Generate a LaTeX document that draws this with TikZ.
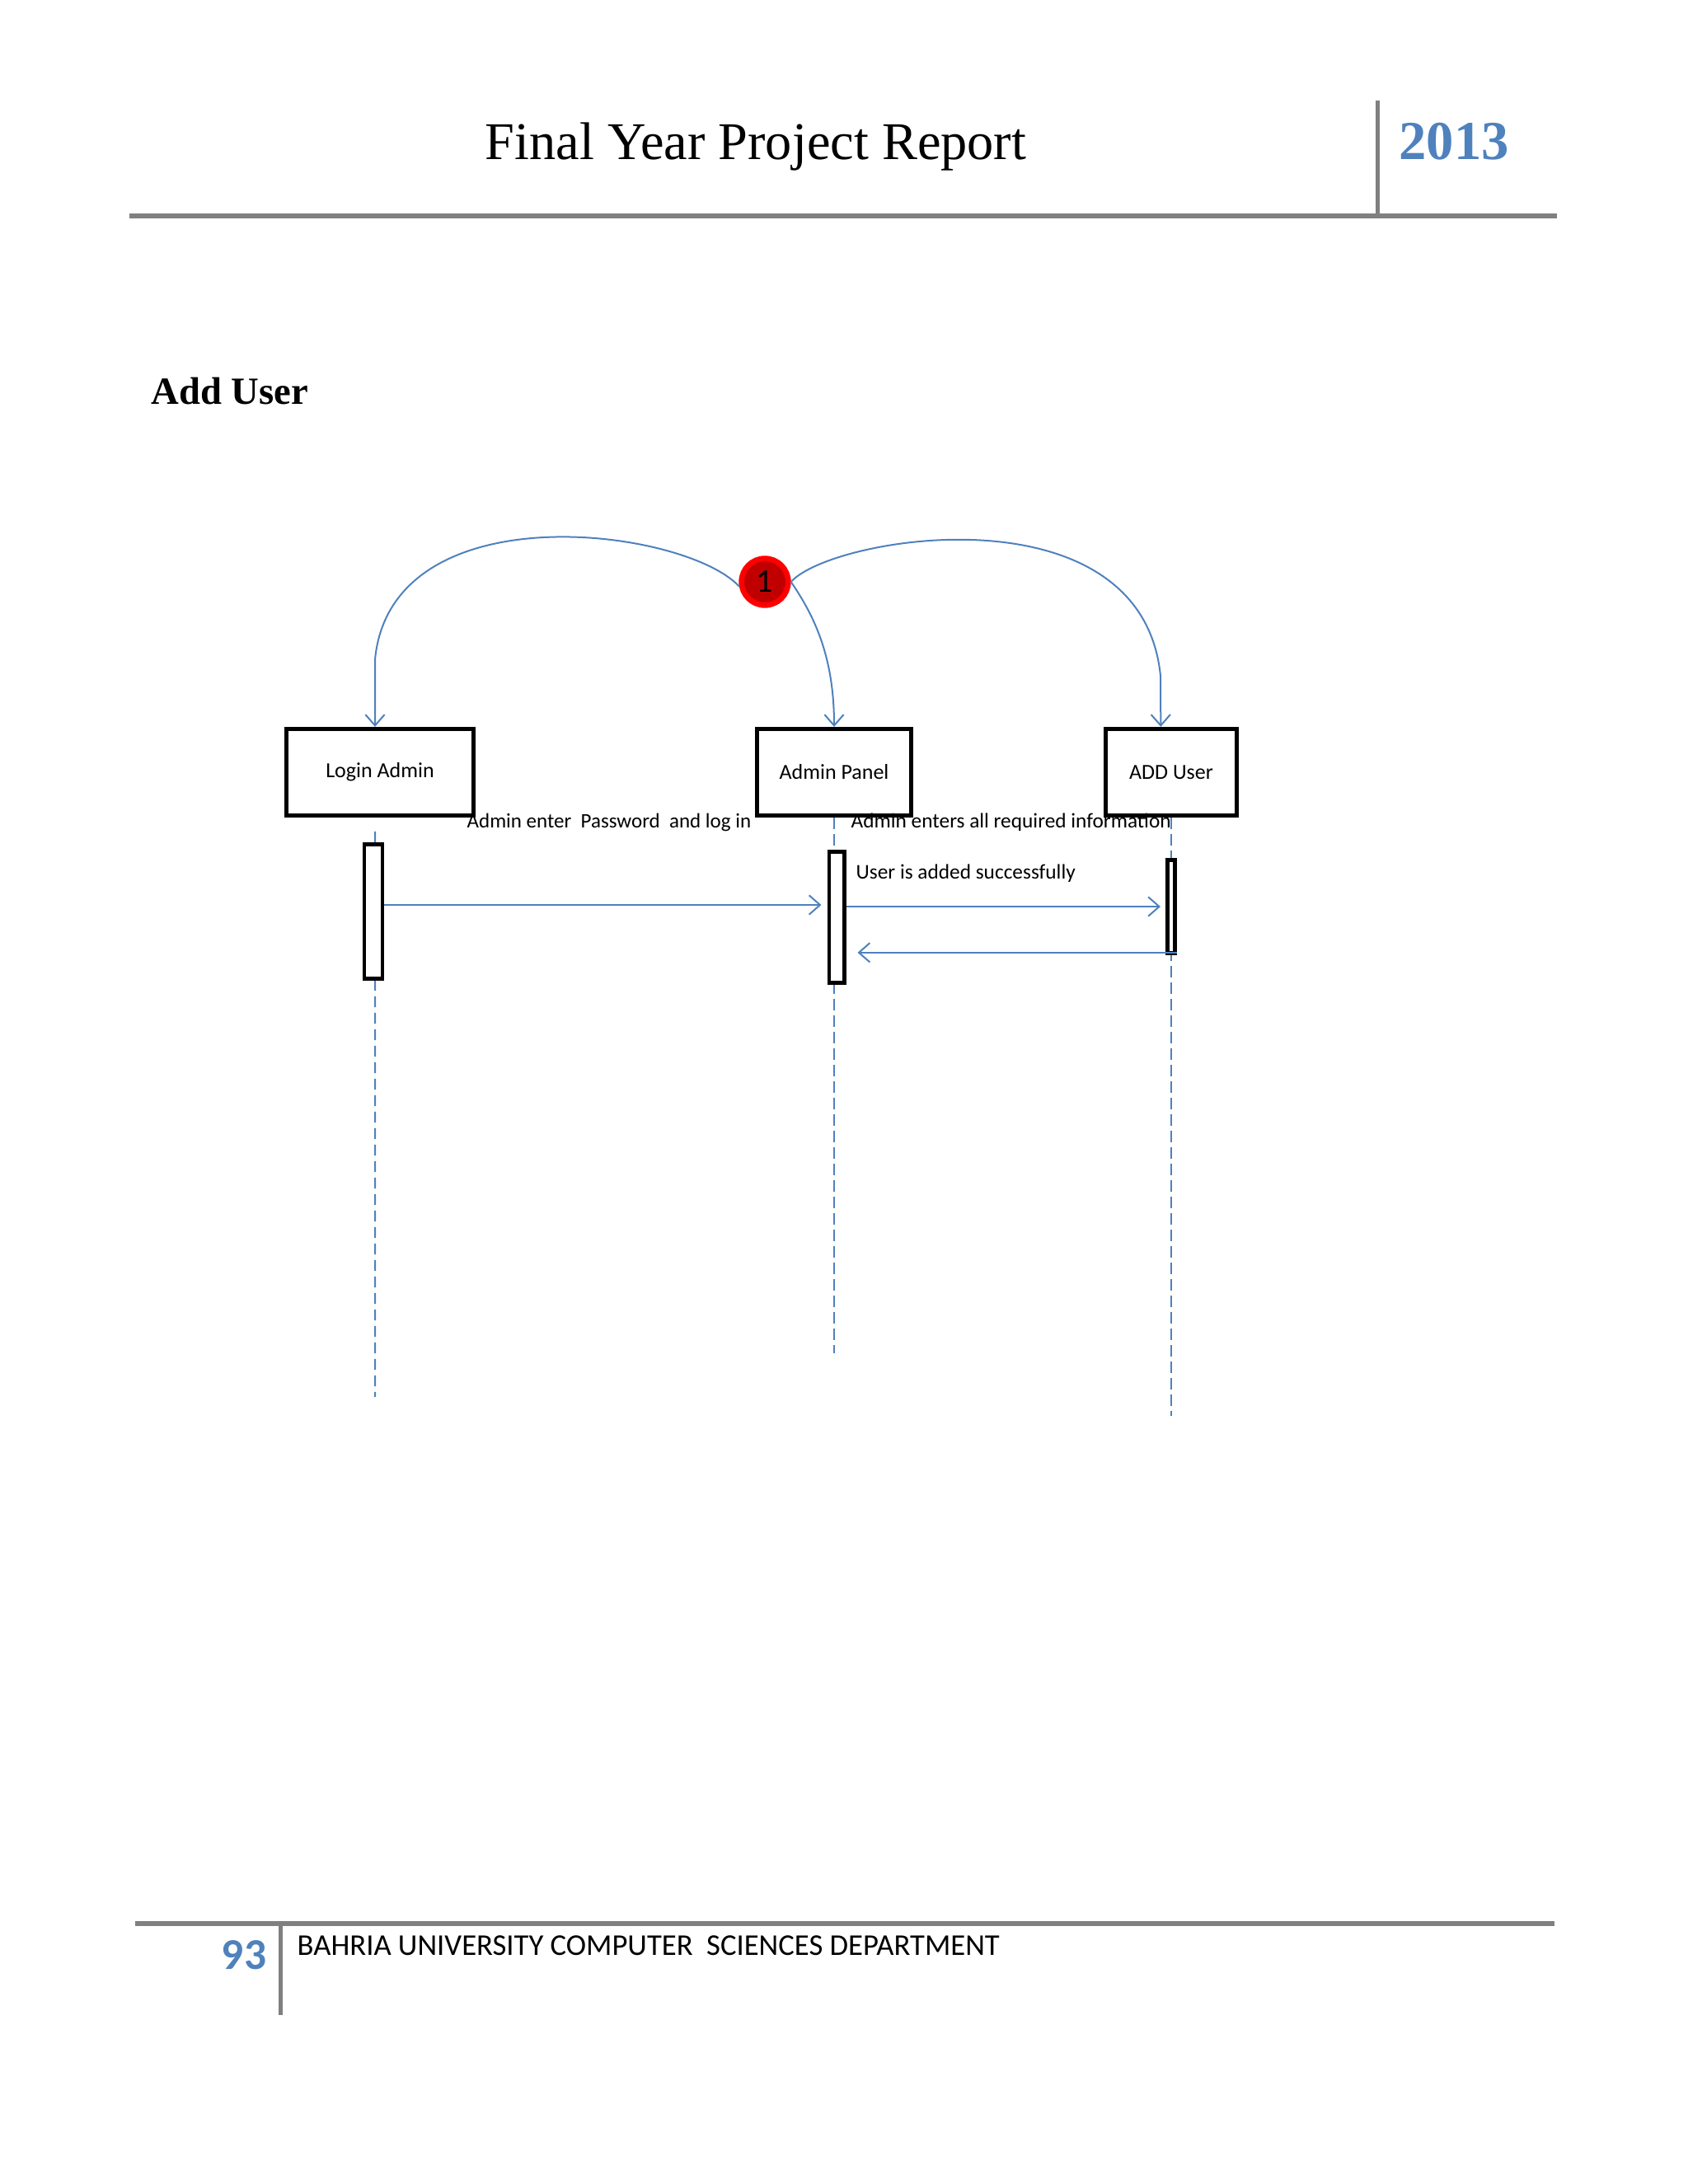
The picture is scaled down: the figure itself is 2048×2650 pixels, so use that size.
\documentclass[tikz,border=0pt]{standalone}
\usepackage{fontspec}
\setmainfont{Liberation Serif}
\newfontfamily\carlito{Carlito}
\usetikzlibrary{arrows.meta,calc}
\definecolor{officeblue}{HTML}{4F81BD}
\definecolor{rulegray}{HTML}{808080}
\definecolor{markred}{HTML}{C00000}
\newcommand{\diagfont}{\carlito\fontsize{7.6}{9}\selectfont}

\begin{document}
\begin{tikzpicture}[x=0.010542cm,y=-0.010542cm,
    obj/.style={draw,line width=1.5pt,minimum height=31.6pt,inner sep=0pt,font=\carlito\fontsize{7.8}{9}\selectfont},
    bar/.style={draw,line width=1.4pt,fill=white,inner sep=0pt},
    lifeline/.style={officeblue,line width=0.6pt,dash pattern=on 4pt off 2pt},
    msg/.style={officeblue,line width=0.6pt,-{Straight Barb[length=4pt,width=7pt]}},
    lbl/.style={font=\diagfont,inner sep=0pt,anchor=base west}]
  \useasboundingbox (0,0) rectangle (2048,2650);

  % page header
  \draw[rulegray,line width=1.8pt] (157,262) -- (1889,262);
  \draw[rulegray,line width=1.5pt] (1671,122) -- (1671,262);
  \node[anchor=base,font=\fontsize{19.3}{22}\selectfont] (title) at (917,193) {Final Year Project Report};
  \node[anchor=base,text=officeblue,font=\fontsize{20}{22}\selectfont\bfseries] (year) at (1764,193) {2013};
  \node[anchor=base west,inner sep=0pt,font=\fontsize{14}{16}\selectfont\bfseries] (heading) at (183,490) {Add User};

  % objects
  \node[obj,minimum width=68pt] (login) at (461,937) {Login Admin};
  \node[obj,minimum width=56pt] (panel) at (1012,937) {Admin Panel};
  \node[obj,minimum width=47.6pt] (adduser) at (1421,937) {ADD User};

  % step marker
  \node[circle,fill=markred,draw=red,line width=2pt,minimum size=17pt,inner sep=0pt,font=\carlito\fontsize{12}{12}\selectfont] (one) at (928,706) {1};
  \draw[msg] (one.190) .. controls (830,640) and (475,595) .. (455,800) -- ([xshift=-1.8pt]login.north);
  \draw[msg] (one.east) .. controls (990,750) and (1012,800) .. (panel.north);
  \draw[msg] (one.east) .. controls (1010,650) and (1385,590) .. (1408,820) -- ([xshift=-3.8pt]adduser.north);

  % lifelines
  \coordinate (loginend) at (455,1695);
  \coordinate (panelend) at (1012,1642);
  \coordinate (addend) at (1421,1718);
  \draw[lifeline] ([xshift=-1.8pt,yshift=-5pt]login.south) -- (loginend);
  \draw[lifeline] (panel.south) -- (panelend);
  \draw[lifeline] (adduser.south) -- (addend);

  % activations
  \node[bar,minimum width=6.6pt,minimum height=48.8pt] (loginbar) at (453,1106) {};
  \node[bar,minimum width=5.5pt,minimum height=47.6pt] (panelbar) at (1015,1113) {};
  \node[bar,minimum width=2.8pt,minimum height=33.9pt] (addbar) at (1421,1100) {};

  % messages
  \draw[msg] ($(loginbar.east)+(0,-8)$) -- ($(panelbar.west |- loginbar.east)+(-7,-8)$);
  \draw[msg] ($(panelbar.east)+(0,-13)$) -- ($(addbar.west |- panelbar.east)+(-6,-13)$);
  \draw[msg] ($(addbar.south east)+(0,-3)$) -- ($(panelbar.east |- addbar.south)+(14,-3)$);
  \node[lbl,font=\carlito\fontsize{7.5}{9}\selectfont] (lbllogin) at (566,1004) {Admin enter\ \ Password\ \ and log in};
  \node[lbl] (lblinfo) at (1032,1004) {Admin enters all required information};
  \node[lbl] (lbldone) at (1038,1066) {User is added successfully};

  % page footer
  \draw[rulegray,line width=1.8pt] (164,2334) -- (1886,2334);
  \draw[rulegray,line width=1.5pt] (340,2334) -- (340,2445);
  \node[anchor=base,text=officeblue,font=\carlito\fontsize{16}{18}\selectfont\bfseries] (pageno) at (296,2389) {93};
  \node[anchor=base west,inner sep=0pt,font=\carlito\fontsize{11}{13}\selectfont] (dept) at (360,2372) {BAHRIA UNIVERSITY COMPUTER\ \ SCIENCES DEPARTMENT};
\end{tikzpicture}
\end{document}
